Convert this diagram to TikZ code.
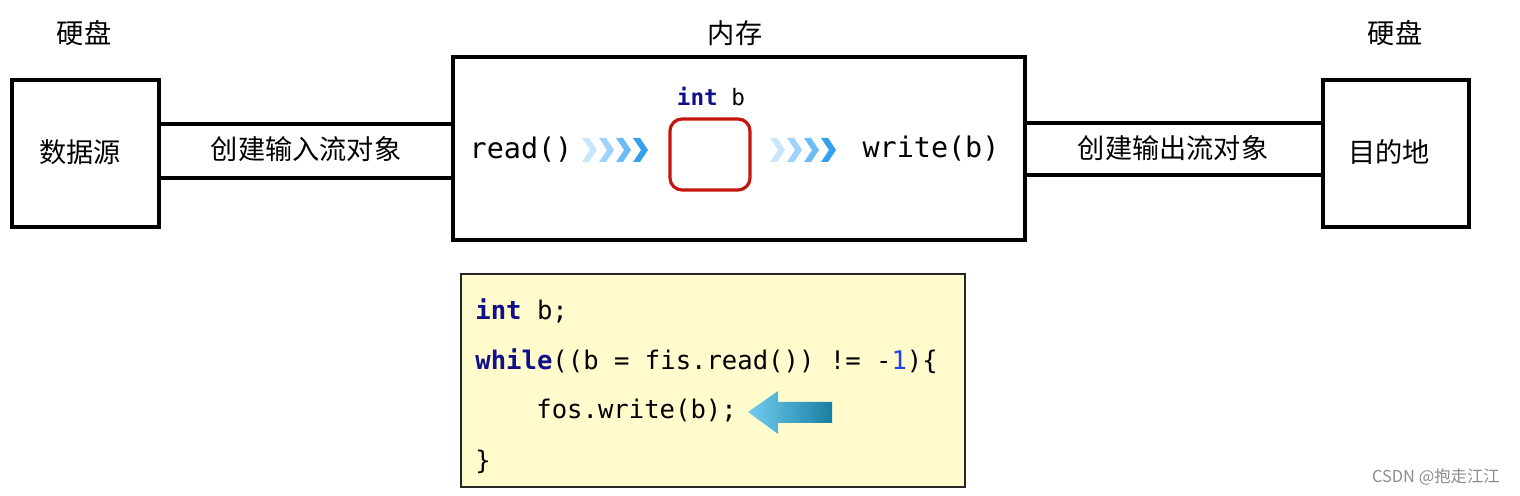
\documentclass[tikz,border=0pt]{standalone}
\usepackage{fontspec}
\newfontfamily\cjk{Noto Sans CJK SC}
\newfontfamily\code{DejaVu Sans Mono}
\definecolor{kw}{HTML}{10108A}
\definecolor{num}{HTML}{1F3FE8}
\definecolor{redbox}{HTML}{C4160E}
\definecolor{codebg}{HTML}{FFFBCC}
\definecolor{chev1}{HTML}{C8E7FF}
\definecolor{chev2}{HTML}{9ED3FF}
\definecolor{chev3}{HTML}{6CBCF8}
\definecolor{chev4}{HTML}{34A0EE}
\definecolor{arrL}{HTML}{72CDF0}
\definecolor{arrR}{HTML}{187EA3}
\tikzset{
  box/.style={draw, line width=1.8pt, inner sep=0pt},
  cjklabel/.style={font=\cjk\fontsize{13.6pt}{16pt}\selectfont, inner sep=0pt},
  chan/.style={line width=1.8pt},
  codetxt/.style={font=\code\fontsize{12.8pt}{15pt}\selectfont, anchor=west, inner sep=0pt},
  memtxt/.style={font=\code\fontsize{14.2pt}{16pt}\selectfont, inner sep=0pt},
}
\newcommand{\chevron}[3]{\fill[#3] (#1-6,#2-12) -- (#1+1,#2-12) -- (#1+9,#2) -- (#1+1,#2+12) -- (#1-6,#2+12) -- (#1+2,#2) -- cycle;}
\begin{document}
\begin{tikzpicture}[x=0.5pt,y=-0.5pt]
\useasboundingbox (0,0) rectangle (1520,496);
% disks
\node[box, minimum width=73.5pt, minimum height=73.5pt] (src) at (85.5,153.5) {};
\node[cjklabel] (srct) at (80,152) {数据源};
\node[box, minimum width=73pt, minimum height=73.5pt] (dst) at (1396,153.5) {};
\node[cjklabel] (dstt) at (1389,152) {目的地};
\node[box, minimum width=286pt, minimum height=91.5pt] (mem) at (739,148.5) {};
\node[cjklabel] (h1) at (84,33) {硬盘};
\node[cjklabel] (h2) at (735,33) {内存};
\node[cjklabel] (h3) at (1395,33) {硬盘};
% channels
\draw[chan] ([yshift=14.75pt]src.east) -- ([yshift=14.75pt]src.east -| mem.west);
\draw[chan] ([yshift=-12.25pt]src.east) -- ([yshift=-12.25pt]src.east -| mem.west);
\node[cjklabel] (inlab) at (306,149) {创建输入流对象};
\draw[chan] ([yshift=15.25pt]dst.west -| mem.east) -- ([yshift=15.25pt]dst.west);
\draw[chan] ([yshift=-10.75pt]dst.west -| mem.east) -- ([yshift=-10.75pt]dst.west);
\node[cjklabel] (outlab) at (1173,148) {创建输出流对象};
% memory contents
\node[memtxt] (rd) at (521,150) {read()};
\node[memtxt] (wr) at (931,149) {write(b)};
\node[draw=redbox, line width=1.6pt, rounded corners=6pt, minimum width=40pt, minimum height=35.5pt] (var) at (710,154.5) {};
\node[font=\code\fontsize{11.3pt}{13pt}\selectfont, inner sep=0pt] (vl) at (711,96) {\textcolor{kw}{\textbf{int}} b};
\chevron{588}{150}{chev1}
\chevron{605}{150}{chev2}
\chevron{622}{150}{chev3}
\chevron{639}{150}{chev4}
\chevron{776}{150}{chev1}
\chevron{793}{150}{chev2}
\chevron{810}{150}{chev3}
\chevron{827}{150}{chev4}
% code box
\node[draw=black!85, line width=1pt, fill=codebg, minimum width=252pt, minimum height=106.5pt, inner sep=0pt] (code) at (713,380.5) {};
\node[codetxt] (l1) at (475,311) {\textcolor{kw}{\textbf{int}} b;};
\node[codetxt] (l2) at (475,361) {\textcolor{kw}{\textbf{while}}((b = fis.read()) != -\textcolor{num}{1})\{};
\node[codetxt] (l3) at (536,411) {fos.write(b);};
\node[codetxt] (l4) at (475,462) {\}};
\shade[left color=arrL, right color=arrR] (748,412) -- (778,391) -- (778,402) -- (832,402) -- (832,423) -- (778,423) -- (778,434) -- cycle;
% watermark
\node[font=\cjk\fontsize{8.2pt}{10pt}\selectfont, text=black!45, inner sep=0pt] (wm) at (1436,477) {CSDN @抱走江江};
\end{tikzpicture}
\end{document}
